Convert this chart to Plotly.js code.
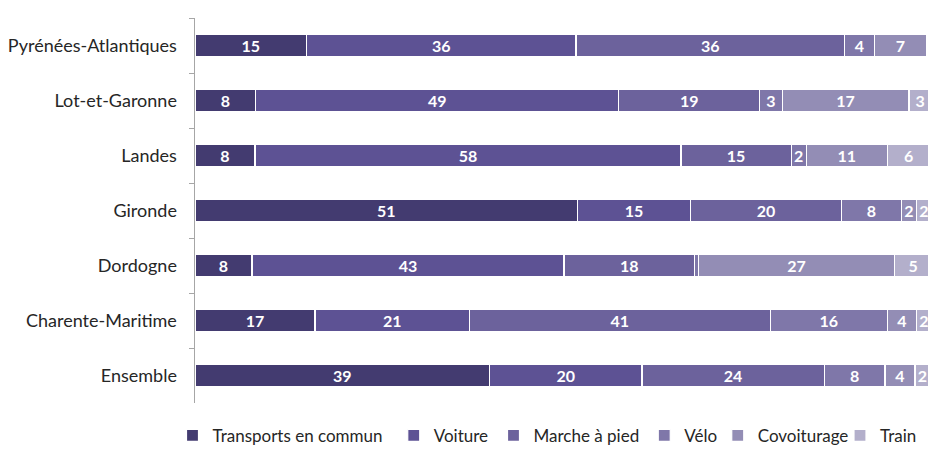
<!DOCTYPE html>
<html>
<head>
<meta charset="utf-8">
<script src="https://cdn.plot.ly/plotly-3.0.1.min.js"></script>
<style>
html,body{margin:0;padding:0;overflow:hidden;background:#fff;}
#chart{width:960px;height:470px;}
</style>
</head>
<body>
<div id="chart"></div>
<script>
// Categories (top to bottom)
const categories = ['Pyrénées-Atlantiques','Lot-et-Garonne','Landes','Gironde','Dordogne','Charente-Maritime','Ensemble'];
// Series values (% of trips)
const transports = [14.9, 8.1, 8.0, 51.0, 7.6, 16.0, 39.3];
const voiture    = [35.9, 48.4, 56.8, 15.1, 41.6, 20.6, 20.3];
const marche     = [35.8, 18.8, 14.7, 20.1, 17.4, 40.1, 24.3];
const velo       = [4.0, 3.0, 2.0, 8.0, 0.5, 15.6, 8.1];
const covoit     = [6.9, 16.9, 10.8, 2.0, 26.2, 3.9, 4.0];
const train      = [null, 3.0, 5.7, 2.0, 4.9, 2.0, 2.0];
// Data labels as printed on the bars
const transportsLbl = ['15','8','8','51','8','17','39'];
const voitureLbl    = ['36','49','58','15','43','21','20'];
const marcheLbl     = ['36','19','15','20','18','41','24'];
const veloLbl       = ['4','3','2','8','','16','8'];
const covoitLbl     = ['7','17','11','2','27','4','4'];
const trainLbl      = ['','3','6','2','5','2','2'];
const seriesNames = ['Transports en commun','Voiture','Marche à pied','Vélo','Covoiturage','Train'];

const colors = ['#433B70','#5D5294','#6C629C','#7F77A9','#938DB5','#B3AFCB'];
const values = [transports, voiture, marche, velo, covoit, train];
const labels = [transportsLbl, voitureLbl, marcheLbl, veloLbl, covoitLbl, trainLbl];
const legendKeys = ['legend','legend2','legend3','legend4','legend5','legend6'];
const legendX = [-0.030, 0.265, 0.398, 0.599, 0.697, 0.860];

const traces = seriesNames.map((name, i) => ({
  type: 'bar',
  orientation: 'h',
  name: name,
  y: categories,
  x: values[i],
  text: labels[i],
  texttemplate: '%{text}',
  textposition: 'inside',
  insidetextanchor: 'middle',
  textangle: 0,
  constraintext: 'none',
  textfont: {family: 'Lato, "Open Sans", sans-serif', size: 16, color: '#ffffff', weight: 'bold'},
  marker: {color: colors[i], line: {color: '#ffffff', width: 1.2}},
  legend: legendKeys[i],
  hoverinfo: 'skip'
}));

const layout = {
  width: 960,
  height: 470,
  margin: {l: 195, r: 15, t: 18, b: 67},
  paper_bgcolor: '#ffffff',
  plot_bgcolor: '#ffffff',
  barmode: 'stack',
  bargap: 0.61,
  showlegend: true,
  xaxis: {
    range: [0, 100],
    visible: false,
    fixedrange: true
  },
  yaxis: {
    type: 'category',
    autorange: 'reversed',
    showline: true,
    linecolor: '#a6a6a6',
    linewidth: 1.5,
    ticks: 'outside',
    tickson: 'boundaries',
    ticklen: 5,
    tickcolor: '#a6a6a6',
    tickwidth: 1,
    ticklabelstandoff: 13,
    showgrid: false,
    zeroline: false,
    automargin: false,
    tickfont: {family: 'Lato, sans-serif', size: 18, color: '#262626'}
  },
  font: {family: 'Lato, sans-serif'}
};

legendKeys.forEach((k, i) => {
  layout[k] = {
    orientation: 'h',
    x: legendX[i],
    xanchor: 'left',
    y: -0.085,
    yanchor: 'middle',
    bgcolor: 'rgba(0,0,0,0)',
    borderwidth: 0,
    itemwidth: 30,
    font: {family: 'Lato, sans-serif', size: 17, color: '#262626'}
  };
});

Plotly.newPlot('chart', traces, layout, {staticPlot: true, displayModeBar: false});
</script>
</body>
</html>
